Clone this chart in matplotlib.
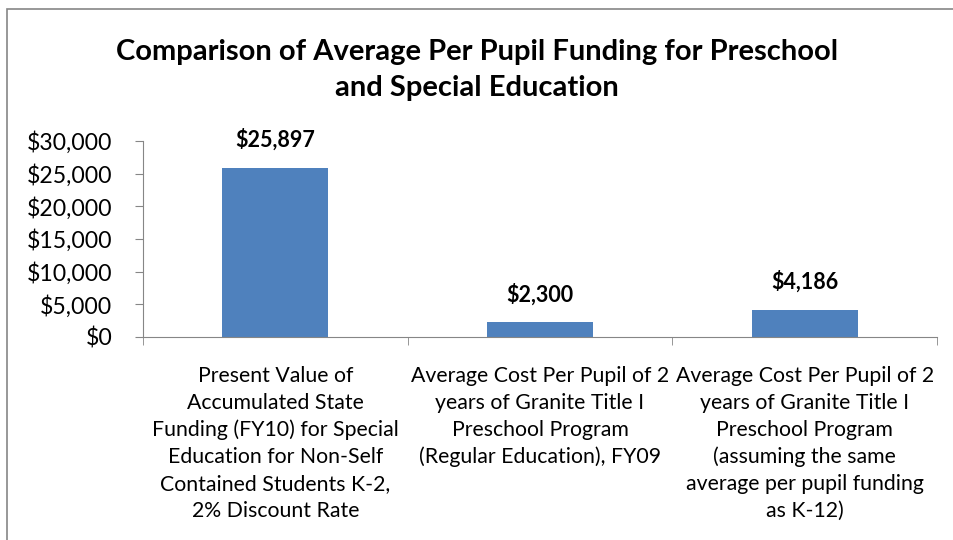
import matplotlib.pyplot as plt
from matplotlib.patches import Rectangle
from matplotlib.ticker import FuncFormatter, MultipleLocator

plt.rcParams['font.family'] = ['Lato', 'DejaVu Sans']

categorias = [
    "Present Value of\nAccumulated State\nFunding (FY10) for Special\nEducation for Non-Self\nContained Students K-2,\n2% Discount Rate",
    "Average Cost Per Pupil of 2\nyears of Granite Title I\nPreschool Program\n(Regular Education), FY09",
    "Average Cost Per Pupil of 2\nyears of Granite Title I\nPreschool Program\n(assuming the same\naverage per pupil funding\nas K-12)",
]
valores = [25897, 2300, 4186]
titulo = "Comparison of Average Per Pupil Funding for Preschool\nand Special Education"

gris = '#868686'
azul = '#4F81BD'

fig = plt.figure(figsize=(9.54, 5.4), dpi=100)
ax = fig.add_axes([143 / 954, 1 - 337 / 540, (937 - 143) / 954, (337 - 141) / 540])

x = list(range(len(valores)))
barras = ax.bar(x, valores, width=0.4, color=azul)

for b, v in zip(barras, valores):
    ax.annotate("${:,}".format(v), (b.get_x() + b.get_width() / 2, v),
                xytext=(0, 12), textcoords='offset points',
                ha='center', va='bottom', fontsize=15.5, fontweight='bold')

ax.set_xlim(-0.5, 2.5)
ax.set_ylim(0, 30000)
ax.yaxis.set_major_locator(MultipleLocator(5000))
ax.yaxis.set_major_formatter(FuncFormatter(lambda v, p: "${:,.0f}".format(v)))

ax.set_xticks(x)
ax.set_xticklabels(categorias, fontsize=15.3, linespacing=1.42, va='top')
ax.set_xticks([-0.5, 0.5, 1.5, 2.5], minor=True)
ax.tick_params(axis='x', which='major', length=0, pad=21)
ax.tick_params(axis='x', which='minor', length=6, color=gris, direction='out')
ax.tick_params(axis='y', length=6, color=gris, direction='out', labelsize=16.6, pad=16)

for s in ['top', 'right']:
    ax.spines[s].set_visible(False)
for s in ['left', 'bottom']:
    ax.spines[s].set_color(gris)

fig.text(0.5, 1 - 70 / 540, titulo, ha='center', va='center', fontsize=21,
         fontweight='bold', linespacing=1.45)

borde = Rectangle((7 / 954, -0.05), 1.1, 1.05 - 9 / 540, transform=fig.transFigure,
                  fill=False, edgecolor=gris, linewidth=1.2)
fig.patches.append(borde)

fig.savefig('out.png', dpi=100)
